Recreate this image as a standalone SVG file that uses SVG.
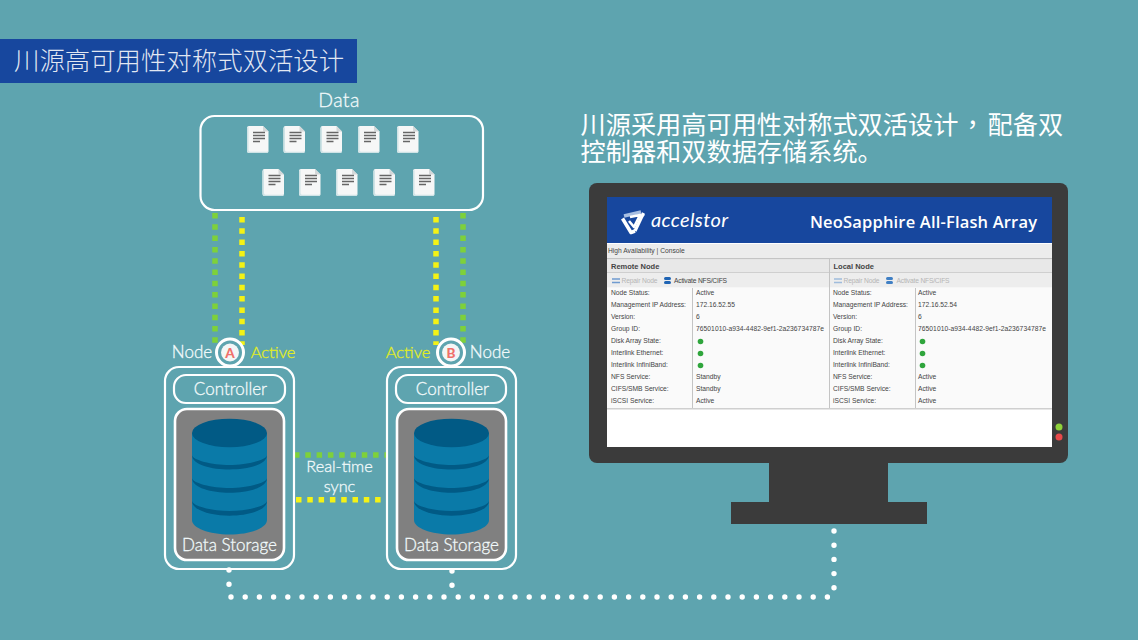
<svg xmlns="http://www.w3.org/2000/svg" xmlns:xlink="http://www.w3.org/1999/xlink" width="1138" height="640" viewBox="0 0 1138 640">
<style>
.bg{fill:#5ea4af}
.lat{font-family:Lato,"Open Sans","Liberation Sans",sans-serif;font-weight:300;stroke:#f2fafb;stroke-width:.3px}
.cjk{font-family:"Noto Sans CJK SC","Noto Sans CJK JP",sans-serif;font-weight:300;fill:#fff}
.w{fill:#f2fafb;font-size:17px;text-anchor:middle}
.y{fill:#e3ee1e;font-size:16.500px;text-anchor:middle;stroke:#e3ee1e}
.box{fill:none;stroke:#fff;stroke-width:2.200}
.ds{fill:#808080;stroke:#fff;stroke-width:2.600}
.g{fill:none;stroke:#7ed13a;stroke-width:5.500;stroke-dasharray:5.500 5.800}
.ye{fill:none;stroke:#f4f215;stroke-width:5.500;stroke-dasharray:5.500 5.800}
.dot{fill:none;stroke:#fff;stroke-width:5.400;stroke-linecap:round;stroke-dasharray:0 14.200}
.t{font-family:"Liberation Sans",sans-serif;font-size:6.700px;fill:#444}
.th{font-family:"Liberation Sans",sans-serif;font-size:7.500px;font-weight:700;fill:#444}
.led{fill:#2fa53c}
</style>
<defs>
<g id="doc">
<path d="M0 2 Q0 0 2 0H16L21.500 5.500V25Q21.500 27 19.500 27H2Q0 27 0 25Z" fill="#f6f7f7"/>
<path d="M0 2 V25Q0 27 2 27H19.500Q21.500 27 21.500 25L20 25.800H3Q1.500 25.800 1.500 24V1Z" fill="#cfe3e6"/>
<path d="M16 0L21.500 5.500H17Q16 5.500 16 4.500Z" fill="#d4d8d9"/>
<path d="M6 6.500H18M6 9.500H18M6 12.500H18M6 15.500H13" stroke="#666" stroke-width="1.300" fill="none"/>
</g>
<g id="cyl">
<path d="M192 433V520C192 528 209 534.500 229.500 534.500S267 528 267 520V433Z" fill="#0a7aa8"/>
<ellipse cx="229.500" cy="433" rx="37.500" ry="14.300" fill="#015a85"/>
<g fill="#015a85">
<path d="M192 455C192 465 212 469.500 229.500 469.500S267 465 267 455C267 460 247 465 229.500 465S192 460 192 455Z"/>
<path d="M192 478C192 488 212 492.700 229.500 492.700S267 488 267 478C267 483 247 488 229.500 488S192 483 192 478Z"/>
<path d="M192 500.700C192 510.700 212 515.700 229.500 515.700S267 510.700 267 500.700C267 506 247 511 229.500 511S192 506 192 500.700Z"/>
</g>
</g>
</defs>
<rect class="bg" width="1138" height="640"/>

<g id="title">
<rect x="0" y="39" width="357" height="44" fill="#17479e"/>
<text class="cjk" x="14" y="70" font-size="25.400" fill-opacity=".88">川源高可用性对称式双活设计</text>
</g>

<g id="heading">
<text class="cjk" x="580.500" y="134" font-size="25.200" style="font-weight:400">川源采用高可用性对称式双活设计<tspan x="960" style="font-family:'Noto Sans CJK TC',sans-serif">，</tspan><tspan x="987.500">配备双</tspan></text>
<text class="cjk" x="580.500" y="161" font-size="25.200" style="font-weight:400">控制器和双数据存储系统。</text>
</g>

<g id="connectors">
<path class="g" d="M215 213V345"/>
<path class="ye" d="M242 217V345"/>
<path class="ye" d="M436 217V345"/>
<path class="g" d="M463 213V345"/>
<path class="g" d="M294 455H387"/>
<path class="ye" d="M296 499.700H383"/>
<path class="dot" d="M229 570V585"/>
<path class="dot" d="M452 571V586"/>
<path class="dot" d="M231 597H833"/>
<path class="dot" d="M834 531V597"/>
</g>

<g id="data">
<text class="lat w" x="339" y="106.500" style="font-size:19.500px;letter-spacing:.4px">Data</text>
<rect class="box" x="200.500" y="116" width="282.500" height="94" rx="14"/>
<use xlink:href="#doc" x="247" y="126"/><use xlink:href="#doc" x="283.500" y="126"/><use xlink:href="#doc" x="320.500" y="126"/><use xlink:href="#doc" x="358" y="126"/><use xlink:href="#doc" x="397" y="126"/>
<use xlink:href="#doc" x="262.500" y="169"/><use xlink:href="#doc" x="299" y="169"/><use xlink:href="#doc" x="336" y="169"/><use xlink:href="#doc" x="373.500" y="169"/><use xlink:href="#doc" x="413" y="169"/>
</g>

<g id="node-a">
<circle cx="230" cy="352.500" r="13.500" fill="#5ea4af" stroke="#fff" stroke-width="3"/>
<circle cx="230" cy="352.500" r="9" fill="#f3f6f6"/>
<text x="230" y="357.500" text-anchor="middle" font-family="Lato,sans-serif" font-weight="900" font-size="13.500" fill="#f0706a">A</text>
<text class="lat w" x="192" y="358">Node</text>
<text class="lat y" x="273" y="358">Active</text>
<rect class="box" x="165" y="367" width="129" height="202" rx="14"/>
<rect class="box" x="174" y="375" width="111" height="28" rx="12"/>
<text class="lat w" x="230.500" y="395">Controller</text>
<rect class="ds" x="175" y="409" width="109" height="151" rx="12"/>
<use xlink:href="#cyl"/>
<text class="lat w" x="229.500" y="551">Data Storage</text>
</g>

<g id="node-b">
<circle cx="451" cy="352.500" r="13.500" fill="#5ea4af" stroke="#fff" stroke-width="3"/>
<circle cx="451" cy="352.500" r="9" fill="#f3f6f6"/>
<text x="451" y="357.500" text-anchor="middle" font-family="Lato,sans-serif" font-weight="900" font-size="13.500" fill="#f0706a">B</text>
<text class="lat y" x="408" y="358">Active</text>
<text class="lat w" x="490" y="358">Node</text>
<rect class="box" x="387" y="367" width="129" height="202" rx="14"/>
<rect class="box" x="396" y="375" width="110" height="28" rx="12"/>
<text class="lat w" x="452.500" y="395">Controller</text>
<rect class="ds" x="397" y="409" width="109" height="151" rx="12"/>
<use xlink:href="#cyl" x="222"/>
<text class="lat w" x="451.500" y="551">Data Storage</text>
</g>

<g id="sync-label">
<text class="lat w" x="339.500" y="472" style="font-size:16.300px">Real-time</text>
<text class="lat w" x="339.500" y="492" style="font-size:16.300px">sync</text>
</g>

<g id="monitor">
<rect x="731" y="502" width="196" height="22" fill="#3b3b3b"/>
<rect x="769" y="460" width="119" height="42" fill="#3b3b3b"/>
<rect x="589" y="183" width="479" height="280" rx="8" fill="#3b3b3b"/>
<rect x="607" y="197" width="445" height="250" fill="#fff"/>
<rect x="607" y="197" width="445" height="46" fill="#17479e"/>
<g fill="none" stroke-linejoin="round">
<path d="M624 216L641 212" stroke="#a8bfe2" stroke-width="3.500"/>
<path d="M640 218L644 214" stroke="#a8bfe2" stroke-width="3"/>
<path d="M622.500 218.500L631 232.500L635 231" stroke="#fff" stroke-width="3.500"/>
<path d="M643.500 213L635 231" stroke="#fff" stroke-width="3.200"/>
<path d="M630 217L640 215L634 227L629 221" stroke="#fff" stroke-width="2.600"/>
</g>
<text x="651" y="226.500" font-family="Lato,sans-serif" font-style="italic" font-size="20" font-weight="400" fill="#fff" textLength="77">accelstor</text>
<text x="810" y="228" font-family="'Open Sans',sans-serif" font-weight="600" font-size="16.500" fill="#fff" textLength="227">NeoSapphire All-Flash Array</text>
<rect x="607" y="244" width="445" height="14" fill="#ececec"/>
<text class="t" x="608" y="253">High Availability | Console</text>
<rect x="607" y="258" width="445" height="1.500" fill="#c4c4c4"/>
<rect x="607" y="259.500" width="445" height="13" fill="#e8e8e8"/>
<rect x="607" y="272.500" width="445" height="15" fill="#ededed"/>
<rect x="607" y="272" width="445" height="1" fill="#cfcfcf"/>
<rect x="607" y="288" width="445" height="120" fill="#fafafa"/>
<rect x="607" y="408" width="445" height="1.500" fill="#cfcfcf"/>
<path d="M692.500 288V408M915.500 288V408M829.500 259V408" stroke="#c4c4c4" stroke-width="1" fill="none"/>
<text class="th" x="611" y="268.500">Remote Node</text>
<text class="th" x="833.500" y="268.500">Local Node</text>
<path d="M612 279H620M612 282.500H620" stroke="#6f9bd0" stroke-width="1.500"/>
<text class="t" x="621.500" y="283" style="fill:#b5b5b5" textLength="36">Repair Node</text>
<rect x="664" y="277" width="7" height="3" rx="1.500" fill="#1f64b4"/><rect x="664" y="281" width="7" height="3" rx="1.500" fill="#1f64b4"/>
<text class="t" x="674" y="283" textLength="53">Activate NFS/CIFS</text>
<path d="M834 279H842M834 282.500H842" stroke="#9fbcdc" stroke-width="1.500"/>
<text class="t" x="843.500" y="283" style="fill:#b5b5b5" textLength="36">Repair Node</text>
<rect x="886" y="277" width="7" height="3" rx="1.500" fill="#3f7fc4"/><rect x="886" y="281" width="7" height="3" rx="1.500" fill="#3f7fc4"/>
<text class="t" x="896.500" y="283" style="fill:#b5b5b5" textLength="53">Activate NFS/CIFS</text>

<g>
<text class="t" x="611" y="295">Node Status:</text><text class="t" x="696" y="295">Active</text>
<text class="t" x="611" y="307">Management IP Address:</text><text class="t" x="696" y="307">172.16.52.55</text>
<text class="t" x="611" y="319">Version:</text><text class="t" x="696" y="319">6</text>
<text class="t" x="611" y="331">Group ID:</text><text class="t" x="696" y="331" textLength="128">76501010-a934-4482-9ef1-2a236734787e</text>
<text class="t" x="611" y="343">Disk Array State:</text><circle class="led" cx="700.500" cy="341.500" r="2.800"/>
<text class="t" x="611" y="355">Interlink Ethernet:</text><circle class="led" cx="700.500" cy="353.500" r="2.800"/>
<text class="t" x="611" y="367">Interlink InfiniBand:</text><circle class="led" cx="700.500" cy="365.500" r="2.800"/>
<text class="t" x="611" y="379">NFS Service:</text><text class="t" x="696" y="379">Standby</text>
<text class="t" x="611" y="391">CIFS/SMB Service:</text><text class="t" x="696" y="391">Standby</text>
<text class="t" x="611" y="403">iSCSI Service:</text><text class="t" x="696" y="403">Active</text>
</g>
<g>
<text class="t" x="833" y="295">Node Status:</text><text class="t" x="918" y="295">Active</text>
<text class="t" x="833" y="307">Management IP Address:</text><text class="t" x="918" y="307">172.16.52.54</text>
<text class="t" x="833" y="319">Version:</text><text class="t" x="918" y="319">6</text>
<text class="t" x="833" y="331">Group ID:</text><text class="t" x="918" y="331" textLength="128">76501010-a934-4482-9ef1-2a236734787e</text>
<text class="t" x="833" y="343">Disk Array State:</text><circle class="led" cx="922.500" cy="341.500" r="2.800"/>
<text class="t" x="833" y="355">Interlink Ethernet:</text><circle class="led" cx="922.500" cy="353.500" r="2.800"/>
<text class="t" x="833" y="367">Interlink InfiniBand:</text><circle class="led" cx="922.500" cy="365.500" r="2.800"/>
<text class="t" x="833" y="379">NFS Service:</text><text class="t" x="918" y="379">Active</text>
<text class="t" x="833" y="391">CIFS/SMB Service:</text><text class="t" x="918" y="391">Active</text>
<text class="t" x="833" y="403">iSCSI Service:</text><text class="t" x="918" y="403">Active</text>
</g>
<circle cx="1059" cy="427" r="3.500" fill="#8ed13a"/>
<circle cx="1059" cy="437" r="3.500" fill="#e8494a"/>
</g>
</svg>
